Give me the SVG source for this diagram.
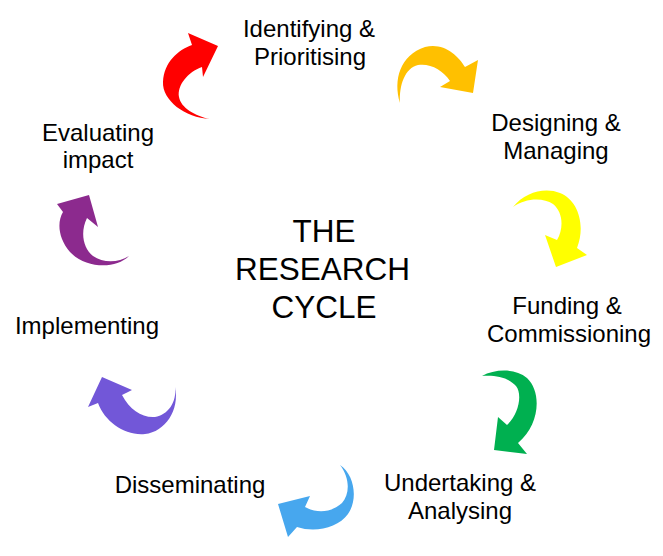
<svg xmlns="http://www.w3.org/2000/svg" width="663" height="556" viewBox="0 0 663 556">
<style>
.lbl{font-family:"Liberation Sans",Arial,sans-serif;font-size:24px;fill:#000;text-anchor:middle}
.title{font-family:"Liberation Sans",Arial,sans-serif;font-size:31.5px;fill:#000;text-anchor:middle}
</style>
<rect width="663" height="556" fill="#ffffff"/>
<g id="connectors">
<path id="arrow-red" fill="#ff0000" d="M210,119 C185,118 162,100 163,82 C164,62 178,50 192,45 L188,33 L218,46 L203,77 L202,67 C188,72 177,85 179,97 C181,108 195,116 210,119 Z"/>
<path id="arrow-orange" fill="#ffc000" d="M400,103 C393,80 400,55 425,47 C443,42 458,55 465,67 L478,60 L473,93 L440,87 L450,81 C443,70 430,63 418,65 C405,68 399,85 400,103 Z"/>
<path id="arrow-yellow" fill="#ffff00" d="M513,207 C525,192 545,187 560,193 C578,200 586,225 577,248 L587,255 L556,267 L545,235 L557,240 C564,228 563,212 553,204 C543,197 525,198 513,207 Z"/>
<path id="arrow-green" fill="#00b050" d="M482,376 C495,369 515,368 527,378 C542,392 540,425 518,443 L527,454 L494,450 L498,417 L507,425 C518,415 523,395 516,386 C508,377 495,375 482,376 Z"/>
<path id="arrow-blue" fill="#47a7ee" d="M340,465 C355,475 358,500 348,514 C338,528 315,533 297,527 L288,537 L278,504 L310,496 L305,507 C318,514 332,512 342,503 C350,494 350,478 340,465 Z"/>
<path id="arrow-violet" fill="#7257d8" d="M175,387 C180,410 165,432 145,434 C125,436 105,422 98,403 L88,407 L102,377 L132,390 L122,395 C130,410 142,418 155,417 C168,415 177,402 175,387 Z"/>
<path id="arrow-purple" fill="#8c2a8e" d="M129,256 C115,270 85,268 70,252 C58,238 57,222 63,212 L57,204 L89,195 L98,227 L87,218 C80,232 83,248 93,256 C103,263 118,263 129,256 Z"/>
</g>
<g id="title">
<text class="title" x="324" y="242">THE</text>
<text class="title" x="322.5" y="280">RESEARCH</text>
<text class="title" x="324" y="318">CYCLE</text>
</g>
<g id="node-identifying"><text class="lbl" x="309" y="37">Identifying &amp;</text><text class="lbl" x="310" y="65">Prioritising</text></g>
<g id="node-designing"><text class="lbl" x="556" y="131">Designing &amp;</text><text class="lbl" x="556" y="159">Managing</text></g>
<g id="node-funding"><text class="lbl" x="567" y="314">Funding &amp;</text><text class="lbl" x="569" y="342">Commissioning</text></g>
<g id="node-undertaking"><text class="lbl" x="460" y="491">Undertaking &amp;</text><text class="lbl" x="460" y="519">Analysing</text></g>
<g id="node-disseminating"><text class="lbl" x="190" y="493">Disseminating</text></g>
<g id="node-implementing"><text class="lbl" x="87" y="334">Implementing</text></g>
<g id="node-evaluating"><text class="lbl" x="98" y="141">Evaluating</text><text class="lbl" x="98" y="168">impact</text></g>
</svg>
